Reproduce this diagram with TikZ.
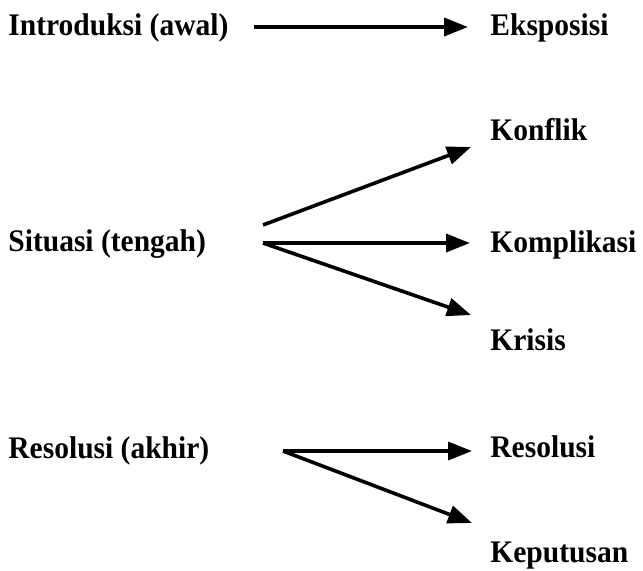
\documentclass[tikz,border=0pt]{standalone}
\usepackage{fontspec}
\setmainfont{Liberation Serif}[BoldFeatures={FakeStretch=0.94}]
\usetikzlibrary{arrows.meta}

\begin{document}
\begin{tikzpicture}[x=0.5pt,y=-0.5pt,
    lbl/.style={anchor=base west,inner sep=0pt,font=\fontsize{15.7}{18}\selectfont\bfseries},
    flow/.style={line width=1.8pt,-{Triangle[length=12pt,width=9pt]}}]
  % page size
  \useasboundingbox (0,0) rectangle (643,570);

  % Left column
  \node[lbl] (intro) at (8,35) {Introduksi (awal)};
  \node[lbl] (situasi) at (8,251) {Situasi (tengah)};
  \node[lbl] (akhir) at (8,458) {Resolusi (akhir)};

  % Right column
  \node[lbl] (ekspo) at (490,35) {Eksposisi};
  \node[lbl] (konflik) at (490,140) {Konflik};
  \node[lbl] (kompli) at (490,252) {Komplikasi};
  \node[lbl] (krisis) at (490,350) {Krisis};
  \node[lbl] (resolusi) at (490,457) {Resolusi};
  \node[lbl] (putusan) at (490,562) {Keputusan};

  % Start and end points of the arrows
  \coordinate (introOut) at (254,27);
  \coordinate (sitUp) at (263,225);
  \coordinate (sitMid) at (263,243);
  \coordinate (akhirOut) at (283,451);
  \coordinate (konflikIn) at (471,147);
  \coordinate (krisisIn) at (471,315);
  \coordinate (putusanIn) at (472,523);

  % Draw the arrows
  \draw[flow] (introOut) -- ([xshift=-11pt]ekspo.west |- introOut);
  \draw[flow] (sitUp) -- (konflikIn);
  \draw[flow] (sitMid) -- ([xshift=-10pt]kompli.west |- sitMid);
  \draw[flow] (sitMid) -- (krisisIn);
  \draw[flow] (akhirOut) -- ([xshift=-9pt]resolusi.west |- akhirOut);
  \draw[flow] (akhirOut) -- (putusanIn);
\end{tikzpicture}
\end{document}
